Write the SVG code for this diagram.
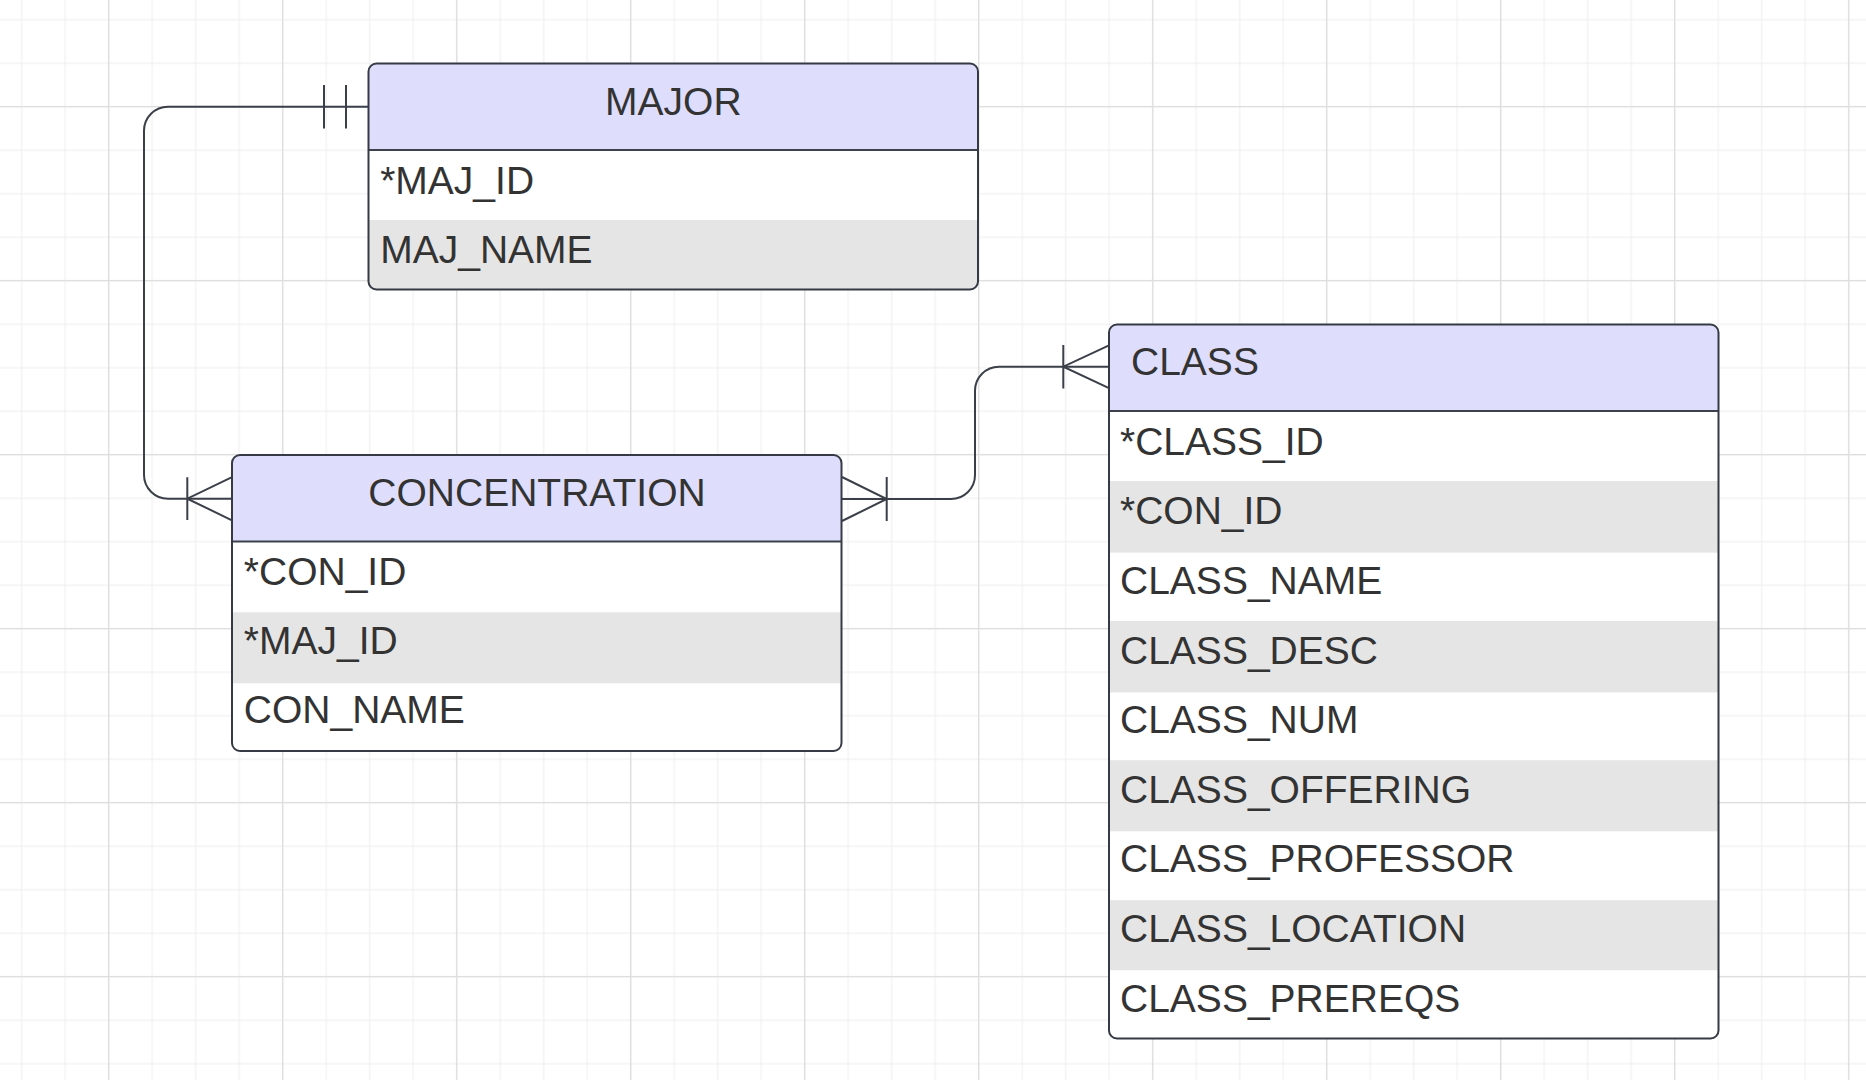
<svg xmlns="http://www.w3.org/2000/svg" width="1866" height="1080" viewBox="0 0 1866 1080">
<style>
.bg{fill:#ffffff}
.hdr{fill:#dedefc}
.row{fill:#ffffff}
.alt{fill:#e5e5e5}
.frame{fill:none;stroke:#353a44;stroke-width:2}
.sep{stroke:#3c414c;stroke-width:2}
.t{font-family:"Liberation Sans",Arial,sans-serif;font-size:39px;fill:#333333}
.tc{text-anchor:middle}
.conn{fill:none;stroke:#3a3f48;stroke-width:2}
</style>
<defs>
<pattern id="gMinor" patternUnits="userSpaceOnUse" x="0" y="-2" width="43.5" height="43.5">
<path d="M21.7 0V43.5M0 21.7H43.5" stroke="#ededed" stroke-width="1" fill="none"/>
</pattern>
<pattern id="gMajor" patternUnits="userSpaceOnUse" x="0" y="-2" width="174" height="174">
<path d="M108.7 0V174M0 108.7H174" stroke="#dfdfdf" stroke-width="1.3" fill="none"/>
</pattern>
<clipPath id="cMajor"><rect x="368.5" y="63.5" width="609.5" height="226" rx="8"/></clipPath>
<clipPath id="cCon"><rect x="232" y="455" width="609.5" height="296" rx="8"/></clipPath>
<clipPath id="cClass"><rect x="1109" y="324.5" width="609.5" height="714" rx="8"/></clipPath>
</defs>

<g id="grid">
<rect class="bg" x="0" y="0" width="1866" height="1080"/>
<rect x="0" y="0" width="1866" height="1080" fill="url(#gMinor)"/>
<rect x="0" y="0" width="1866" height="1080" fill="url(#gMajor)"/>
</g>

<g id="connectors">
<path class="conn" d="M369 106.7H168A24 24 0 0 0 144 130.7V474.7A24 24 0 0 0 168 498.7H232"/>
<path class="conn" d="M324 85V128.5M346 85V128.5"/>
<path class="conn" d="M187.3 477.3V519.9M232 477.2L187.3 498.7L232 520.3"/>
<path class="conn" d="M842 499H951A24 24 0 0 0 975 475V390.7A24 24 0 0 1 999 366.7H1109"/>
<path class="conn" d="M886.7 477V521M842 477L886.7 499L842 521"/>
<path class="conn" d="M1063.3 345V388.5M1109 345.3L1063.3 366.7L1109 388.2"/>
</g>

<g id="node-major">
<g clip-path="url(#cMajor)">
<rect class="row" x="368.5" y="63.5" width="609.5" height="226"/>
<rect class="hdr" x="368.5" y="63.5" width="609.5" height="86.5"/>
<rect class="alt" x="368.5" y="220" width="609.5" height="70"/>
</g>
<line class="sep" x1="368.5" y1="150" x2="978" y2="150"/>
<rect class="frame" x="368.5" y="63.5" width="609.5" height="226" rx="8"/>
<text class="t tc" x="673.3" y="115.3">MAJOR</text>
<text class="t" x="380.2" y="193.6">*MAJ_ID</text>
<text class="t" x="380.2" y="263">MAJ_NAME</text>
</g>

<g id="node-concentration">
<g clip-path="url(#cCon)">
<rect class="row" x="232" y="455" width="609.5" height="296"/>
<rect class="hdr" x="232" y="455" width="609.5" height="86.5"/>
<rect class="alt" x="232" y="612.3" width="609.5" height="71"/>
</g>
<line class="sep" x1="232" y1="541.5" x2="841.5" y2="541.5"/>
<rect class="frame" x="232" y="455" width="609.5" height="296" rx="8"/>
<text class="t tc" x="537" y="506.3">CONCENTRATION</text>
<text class="t" x="243.8" y="585.3">*CON_ID</text>
<text class="t" x="243.8" y="654.3">*MAJ_ID</text>
<text class="t" x="243.8" y="723">CON_NAME</text>
</g>

<g id="node-class">
<g clip-path="url(#cClass)">
<rect class="row" x="1109" y="324.5" width="609.5" height="714"/>
<rect class="hdr" x="1109" y="324.5" width="609.5" height="86.5"/>
<rect class="alt" x="1109" y="481" width="609.5" height="71.6"/>
<rect class="alt" x="1109" y="620.9" width="609.5" height="71.6"/>
<rect class="alt" x="1109" y="760.2" width="609.5" height="71.1"/>
<rect class="alt" x="1109" y="900.2" width="609.5" height="70"/>
</g>
<line class="sep" x1="1109" y1="411" x2="1718.5" y2="411"/>
<rect class="frame" x="1109" y="324.5" width="609.5" height="714" rx="8"/>
<text class="t" x="1131" y="375.3">CLASS</text>
<text class="t" x="1120" y="454.5">*CLASS_ID</text>
<text class="t" x="1120" y="524.2">*CON_ID</text>
<text class="t" x="1120" y="593.8">CLASS_NAME</text>
<text class="t" x="1120" y="663.5">CLASS_DESC</text>
<text class="t" x="1120" y="733.1">CLASS_NUM</text>
<text class="t" x="1120" y="802.8">CLASS_OFFERING</text>
<text class="t" x="1120" y="872.4">CLASS_PROFESSOR</text>
<text class="t" x="1120" y="942.1">CLASS_LOCATION</text>
<text class="t" x="1120" y="1011.7">CLASS_PREREQS</text>
</g>
</svg>
